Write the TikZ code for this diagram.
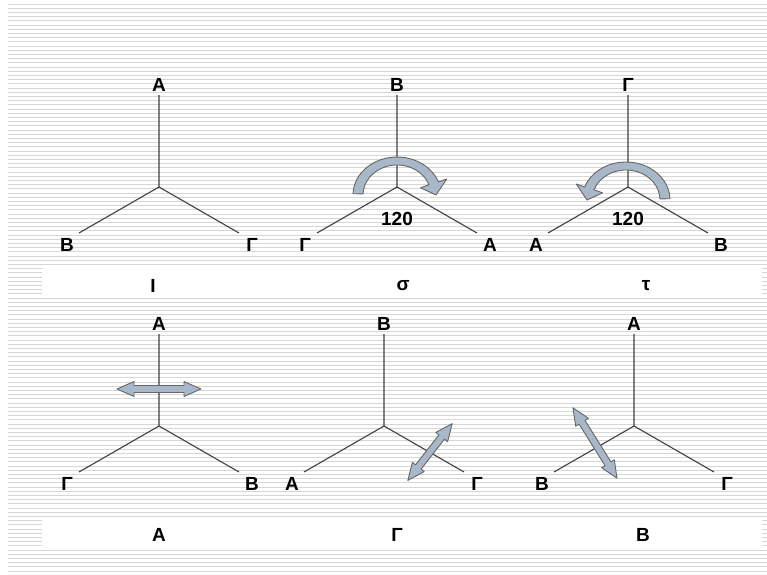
\documentclass[tikz,border=0pt]{standalone}
\usepackage{fontspec}
\setmainfont{Liberation Sans}
\usetikzlibrary{calc}
\definecolor{arrowblue}{RGB}{168,184,200}

\tikzset{
  stripe/.style={draw=black!16, line width=1pt},
  leg/.style={draw=black!75, line width=1.1pt},
  lbl/.style={font=\fontsize{19}{22}\selectfont\bfseries, inner sep=0pt},
  turnarrow/.style={fill=arrowblue, draw=black!60, line width=0.9pt, line join=round},
}

\begin{document}
\begin{tikzpicture}[x=1pt,y=-1pt]
\useasboundingbox (0,0) rectangle (767,574);

% lined background
\foreach \s in {4,8.2,...,572}
    \draw[stripe] (8,\s) -- (767,\s);
\fill[white] (42,267) rectangle (762,297);
\fill[white] (42,517) rectangle (762,547);

% the six tripods
\foreach \n/\cx/\cy/\ta/\la/\ra in {1/159/187/Α/Β/Γ, 2/397/187/Β/Γ/Α, 3/628/187/Γ/Α/Β,
                                    4/159/426/Α/Γ/Β, 5/384/426/Β/Α/Γ, 6/634/426/Α/Β/Γ}{
    \coordinate (c\n) at (\cx,\cy);
    \coordinate (t\n) at ($(c\n)+(0,-92)$);
    \coordinate (l\n) at ($(c\n)+(-80,46)$);
    \coordinate (r\n) at ($(c\n)+(80,46)$);
    \draw[leg] (t\n) -- (c\n) -- (l\n);
    \draw[leg] (c\n) -- (r\n);
    \node[lbl] (ta\n) at ($(t\n)+(0,-10)$) {\ta};
    \node[lbl] (la\n) at ($(l\n)+(-12,12)$) {\la};
    \node[lbl] (ra\n) at ($(r\n)+(13,12)$) {\ra};
}

% captions
\node[lbl] (capI) at (153,286) {Ι};
\node[lbl] (capS) at (403,286) {σ};
\node[lbl] (capT) at (646,286) {τ};
\node[lbl] (capA) at (159,535) {Α};
\node[lbl] (capG) at (397,535) {Γ};
\node[lbl] (capB) at (643,535) {Β};

\node[lbl] (angS) at (397,219) {120};
\node[lbl] (angT) at (628,219) {120};

% rotations
\foreach \mx/\my/\sx in {397/195/1, 626/200/-1}{
  \begin{scope}[shift={(\mx,\my)},xscale=\sx]
    \filldraw[turnarrow] (182:44 and 38) arc[start angle=182, end angle=340, x radius=44, y radius=38]
        -- (340:53 and 47) -- (0:39 and 34) -- (340:25 and 21) -- (340:34 and 30)
        arc[start angle=340, end angle=182, x radius=34, y radius=30] -- cycle;
  \end{scope}
}

% reflections
\foreach \mx/\my/\ang/\len in {159/389/0/84, 430/452/52/72, 595/443/122/83}{
  \begin{scope}[shift={(\mx,\my)},rotate=\ang]
    \filldraw[turnarrow] ({-\len/2},0) -- ({-\len/2+17},-7.5) -- ({-\len/2+17},-3.5)
        -- ({\len/2-17},-3.5) -- ({\len/2-17},-7.5) -- ({\len/2},0) -- ({\len/2-17},7.5)
        -- ({\len/2-17},3.5) -- ({-\len/2+17},3.5) -- ({-\len/2+17},7.5) -- cycle;
  \end{scope}
}

\end{tikzpicture}
\end{document}
